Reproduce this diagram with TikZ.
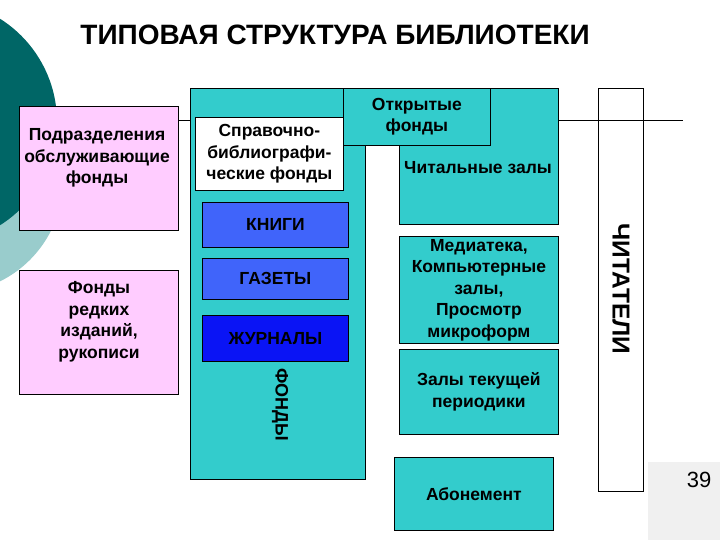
\documentclass[tikz,border=0pt]{standalone}
\usepackage{fontspec}
\setmainfont{Liberation Sans}
\definecolor{tealdark}{RGB}{0,102,102}
\definecolor{teallight}{RGB}{153,204,204}
\definecolor{tealbox}{RGB}{51,204,204}
\definecolor{pinkbox}{RGB}{255,204,255}
\definecolor{bluemid}{RGB}{64,100,250}
\definecolor{bluedeep}{RGB}{10,20,245}
\definecolor{grayfoot}{RGB}{240,240,240}
\begin{document}
\begin{tikzpicture}[x=1pt,y=-1pt,
  bx/.style={draw=black, line width=0.8pt, inner sep=0pt, anchor=north west},
  txt/.style={align=center, inner sep=0pt, font=\fontsize{17.5}{21.5}\selectfont\bfseries},
  vtxt/.style={inner sep=0pt, rotate=-90, font=\bfseries}]
\useasboundingbox (0,0) rectangle (720,540);
\fill[white] (0,0) rectangle (720,540);
\begin{scope}
\clip (0,0) rectangle (720,540);
\fill[teallight] (-50,180) circle (113);
\fill[tealdark] (-65,122) circle (122);
\end{scope}
% footer
\node[anchor=north west, fill=grayfoot, inner sep=0pt, minimum width=72, minimum height=78] (foot) at (648,462) {};
\node[inner sep=0pt, font=\fontsize{22}{22}\selectfont] (pagenum) at (699,480) {39};
% title
\node[inner sep=0pt, font=\fontsize{28}{30}\selectfont\bfseries] (title) at (335,35) {ТИПОВАЯ СТРУКТУРА БИБЛИОТЕКИ};
% readers box and line
\node[bx, fill=white, minimum width=45, minimum height=403] (readers) at (598,88) {};
\node[vtxt, font=\fontsize{24.5}{24.5}\selectfont\bfseries] (readerslbl) at (621,289) {ЧИТАТЕЛИ};
\node[bx, fill=pinkbox, minimum width=159, minimum height=124] (pink1) at (19,106) {};
\node[txt] (pink1lbl) at (97,158) {Подразделения\\обслуживающие\\фонды};
\coordinate (lineend) at (683,120);
\draw[line width=0.8pt] (pink1.east |- lineend) -- (lineend);
\node[bx, fill=pinkbox, minimum width=159, minimum height=124] (pink2) at (19,270) {};
\node[txt] (pink2lbl) at (99,322) {Фонды\\редких\\изданий,\\рукописи};
% funds
\node[bx, fill=tealbox, minimum width=175, minimum height=391] (funds) at (190,88) {};
\node[vtxt, font=\fontsize{18}{18}\selectfont\bfseries] (fundslbl) at (280,405) {ФОНДЫ};
\node[bx, fill=tealbox, minimum width=159, minimum height=136] (reading) at (399,88) {};
\node[txt] (readinglbl) at (478,168) {Читальные залы};
\node[bx, fill=tealbox, minimum width=147, minimum height=57, anchor=north west] (open) at (343,88) {};
\node[txt] at (open.center) (openlbl) {Открытые\\фонды};
\node[bx, fill=white, minimum width=148, minimum height=73] (ref) at (195,117) {};
\node[txt] at (ref.center) (reflbl) {Справочно-\\библиографи-\\ческие фонды};
\node[bx, fill=bluemid, minimum width=146, minimum height=45] (books) at (202,202) {};
\node[txt] at (books.center) (bookslbl) {КНИГИ};
\node[bx, fill=bluemid, minimum width=146, minimum height=41] (news) at (202,258) {};
\node[txt] at (news.center) (newslbl) {ГАЗЕТЫ};
\node[bx, fill=bluedeep, minimum width=146, minimum height=46] (mags) at (202,315) {};
\node[txt] at (mags.center) (magslbl) {ЖУРНАЛЫ};
% right column
\node[bx, fill=tealbox, minimum width=159, minimum height=107] (media) at (399,236) {};
\node[txt] at (media.center) (medialbl) {Медиатека,\\Компьютерные\\залы,\\Просмотр\\микроформ};
\node[bx, fill=tealbox, minimum width=159, minimum height=85] (period) at (399,349) {};
\node[txt] at (period.center) (periodlbl) {Залы текущей\\периодики};
\node[bx, fill=tealbox, minimum width=159, minimum height=73] (loan) at (394,457) {};
\node[txt] at (loan.center) (loanlbl) {Абонемент};
\end{tikzpicture}
\end{document}
